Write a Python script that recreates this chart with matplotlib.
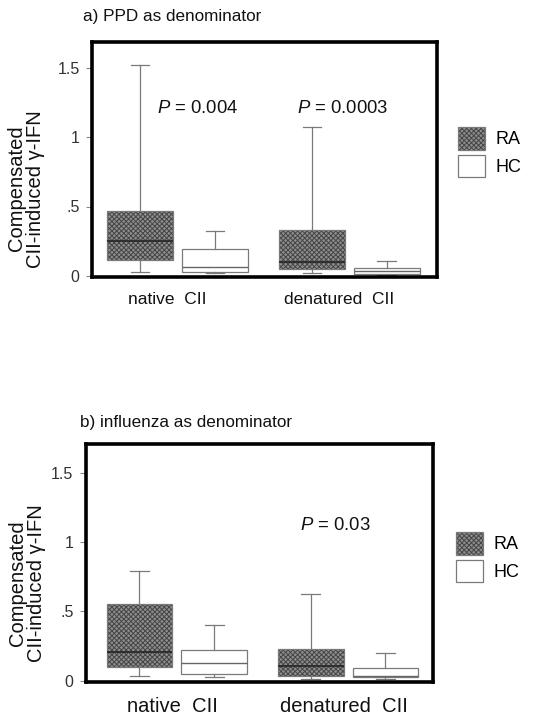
import matplotlib
matplotlib.use("Agg")
import matplotlib.pyplot as plt
from matplotlib.patches import Patch

plt.rcParams['font.family'] = ['Liberation Sans', 'DejaVu Sans']
plt.rcParams['mathtext.fontset'] = 'custom'
plt.rcParams['mathtext.it'] = 'Liberation Sans:italic'
plt.rcParams['mathtext.rm'] = 'Liberation Sans'
plt.rcParams['hatch.linewidth'] = 0.7

# ---------------- data ----------------
categories = ['native  CII', 'denatured  CII']
groups = ['RA', 'HC']

# a) PPD as denominator
ppd_ra_low = [0.025, 0.016]
ppd_ra_q1 = [0.11, 0.047]
ppd_ra_med = [0.25, 0.096]
ppd_ra_q3 = [0.47, 0.332]
ppd_ra_high = [1.52, 1.078]
ppd_hc_low = [0.016, 0.008]
ppd_hc_q1 = [0.025, 0.014]
ppd_hc_med = [0.064, 0.03]
ppd_hc_q3 = [0.19, 0.052]
ppd_hc_high = [0.322, 0.107]
ppd_pvalues = ['0.004', '0.0003']

# b) influenza as denominator
flu_ra_low = [0.036, 0.01]
flu_ra_q1 = [0.097, 0.036]
flu_ra_med = [0.205, 0.104]
flu_ra_q3 = [0.556, 0.225]
flu_ra_high = [0.79, 0.628]
flu_hc_low = [0.024, 0.01]
flu_hc_q1 = [0.048, 0.024]
flu_hc_med = [0.128, 0.035]
flu_hc_q3 = [0.222, 0.092]
flu_hc_high = [0.40, 0.20]
flu_pvalues = [None, '0.03']

ytick_values = [0, 0.5, 1, 1.5]
ytick_labels = ['0', '.5', '1', '1.5']

# ---------------- figure ----------------
fig = plt.figure(figsize=(5.37, 7.15), dpi=100)

RA_FACE = '#8e8e8e'
RA_HATCH = '#454545'
RA_PATTERN = 'xxxxxxx'


def stats(low, q1, med, q3, high):
    return [dict(whislo=l, q1=a, med=m, q3=b, whishi=h, fliers=[])
            for l, a, m, b, h in zip(low, q1, med, q3, high)]


def panel(rect, xlim, ylim, ra, hc, pvals, p_x, p_y, title, title_xy,
          xlab_size, xlab_shift, ylab_xy, leg_xy):
    ax = fig.add_axes(rect)
    off = 0.218
    width = 0.384
    box_edge = '#7a7a7a'
    common = dict(widths=width, patch_artist=True, showfliers=False,
                  capwidths=0.11,
                  whiskerprops=dict(color=box_edge, lw=0.9),
                  capprops=dict(color=box_edge, lw=0.9))
    pos = [1, 2]
    b1 = ax.bxp(stats(*ra), positions=[p - off for p in pos],
                medianprops=dict(color='#2a2a2a', lw=1.3), **common)
    b2 = ax.bxp(stats(*hc), positions=[p + off for p in pos],
                medianprops=dict(color='#666666', lw=1.0), **common)
    for b in b1['boxes']:
        b.set_facecolor(RA_FACE)
        b.set_hatch(RA_PATTERN)
        b.set_edgecolor(box_edge)
        b.set_linewidth(0.9)
        b._hatch_color = matplotlib.colors.to_rgba(RA_HATCH)
    for b in b2['boxes']:
        b.set_facecolor('white')
        b.set_edgecolor(box_edge)
        b.set_linewidth(0.9)
    ax.set_xlim(*xlim)
    ax.set_ylim(*ylim)
    for s in ax.spines.values():
        s.set_linewidth(2.6)
        s.set_color('black')
    ax.set_yticks(ytick_values)
    ax.set_yticklabels(ytick_labels)
    ax.tick_params(axis='y', direction='out', length=4, width=0.8,
                   color='#888888', labelsize=11.5, labelcolor='#333333',
                   pad=5)
    ax.set_xticks([p + xlab_shift for p in pos])
    ax.set_xticklabels(categories)
    ax.tick_params(axis='x', length=0, labelsize=xlab_size, pad=11,
                   labelcolor='#111111')
    for p, pv, px in zip(pos, pvals, p_x):
        if pv is not None:
            ax.text(p + px, p_y, r'$\mathit{P}$' + ' = ' + pv, ha='center',
                    va='center', fontsize=13.3, color='#111111')
    fig.text(title_xy[0], title_xy[1], title, fontsize=12.3, ha='left',
             va='center', color='#111111')
    ax.text(ylab_xy[0], ylab_xy[1], 'Compensated\nCII-induced γ-IFN',
            transform=ax.transAxes, rotation=90, ha='center', va='center',
            fontsize=14.5, linespacing=1.0, color='#111111')
    handles = [Patch(facecolor=RA_FACE, edgecolor=box_edge, hatch=RA_PATTERN,
                     lw=0.9),
               Patch(facecolor='white', edgecolor=box_edge, lw=0.9)]
    leg = fig.legend(handles, groups, loc='upper left',
                     bbox_to_anchor=leg_xy, bbox_transform=fig.transFigure,
                     frameon=False, fontsize=13, handlelength=1.5,
                     handleheight=1.55, labelspacing=0.28, handletextpad=0.6,
                     borderpad=0, borderaxespad=0)
    leg.legend_handles[0]._hatch_color = matplotlib.colors.to_rgba(RA_HATCH)
    return ax


panel([92/537, 1 - 277/715, 345/537, 235/715], (0.503, 2.509), (-0.01, 1.69),
      (ppd_ra_low, ppd_ra_q1, ppd_ra_med, ppd_ra_q3, ppd_ra_high),
      (ppd_hc_low, ppd_hc_q1, ppd_hc_med, ppd_hc_q3, ppd_hc_high),
      ppd_pvalues, [0.116, -0.04], 1.21,
      'a) PPD as denominator', (83/537, 1 - 16/715), 12.5, -0.06,
      (-0.19, 0.376), (458/537, 1 - 127/715))

panel([86/537, 1 - 682/715, 347/537, 238/715], (0.47, 2.496), (-0.01, 1.71),
      (flu_ra_low, flu_ra_q1, flu_ra_med, flu_ra_q3, flu_ra_high),
      (flu_hc_low, flu_hc_q1, flu_hc_med, flu_hc_q3, flu_hc_high),
      flu_pvalues, [0.0, -0.073], 1.12,
      'b) influenza as denominator', (80/537, 1 - 422/715), 14.5, -0.025,
      (-0.17, 0.416), (456/537, 1 - 532/715))

fig.savefig('out.png', dpi=100)
